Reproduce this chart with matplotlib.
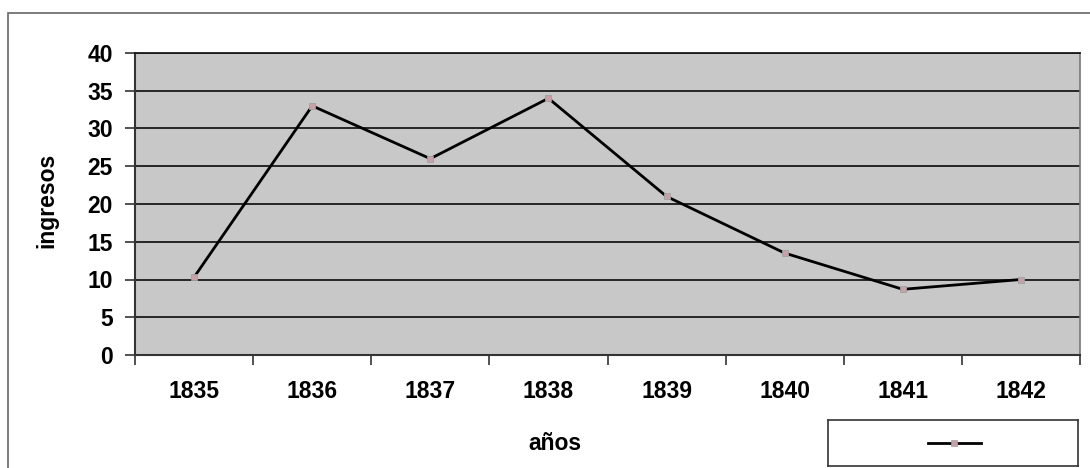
import matplotlib.pyplot as plt
from matplotlib.patches import Rectangle
import numpy as np

# data
years = ['1835', '1836', '1837', '1838', '1839', '1840', '1841', '1842']
ingresos = [10.3, 33.0, 26.0, 34.0, 21.0, 13.5, 8.7, 10.0]
yticks = [0, 5, 10, 15, 20, 25, 30, 35, 40]

plt.rcParams['font.family'] = ['Liberation Sans', 'DejaVu Sans']
plt.rcParams['font.weight'] = 'bold'

fig = plt.figure(figsize=(10.9, 4.68), dpi=100)
fig.patch.set_facecolor('white')

# outer chart frame
fig.patches.append(Rectangle((8/1090, -0.02), 1.05, 1 - 13/468 + 0.02,
                             transform=fig.transFigure, fill=False,
                             edgecolor='#666666', linewidth=1.2))

ax = fig.add_axes([135/1090, 1 - 355/468, 945/1090, 302/468])
ax.set_facecolor('#c8c8c8')

x = np.arange(len(years))
line, = ax.plot(x, ingresos, color='black', linewidth=2,
                marker='s', markersize=5, markerfacecolor='#c8a0a8',
                markeredgecolor='#a0a0a0', markeredgewidth=0.6, zorder=3)

ax.set_xlim(-0.5, len(years) - 0.5)
ax.set_ylim(0, 40)

ax.set_yticks(yticks)
ax.yaxis.grid(True, color='#1a1a1a', linewidth=1.3)
ax.set_axisbelow(True)
ax.tick_params(axis='y', length=7, width=1.2, color='#333333',
               labelsize=16.5, pad=9)

# major ticks at category edges, labels at centers
ax.set_xticks(np.arange(len(years) + 1) - 0.5)
ax.set_xticklabels([])
ax.set_xticks(x, minor=True)
ax.set_xticklabels(years, minor=True)
ax.tick_params(axis='x', which='major', length=7, width=1.2,
               color='#333333', direction='out')
ax.tick_params(axis='x', which='minor', length=0, labelsize=16.5, pad=18)

for s in ['left', 'bottom']:
    ax.spines[s].set_color('#333333')
    ax.spines[s].set_linewidth(1.5)
ax.spines['top'].set_color('#1a1a1a')
ax.spines['top'].set_linewidth(1.3)
ax.spines['right'].set_color('#777777')
ax.spines['right'].set_linewidth(1.2)

fig.text(47/1090, 1 - 200/468, 'ingresos', fontsize=16.5, fontweight='bold',
         rotation=90, ha='center', va='center')
fig.text(555/1090, 1 - 443/468, 'años', fontsize=16.5, fontweight='bold',
         ha='center', va='center')

# legend box with no label text
lax = fig.add_axes([828/1090, 1 - 466/468, 250/1090, 46/468])
lax.set_xlim(0, 1)
lax.set_ylim(0, 1)
lax.set_xticks([])
lax.set_yticks([])
for s in lax.spines.values():
    s.set_color('#333333')
    s.set_linewidth(1.2)
lax.plot([0.40, 0.61], [0.5, 0.5], color='black', linewidth=2)
lax.plot([0.505], [0.5], marker='s', markersize=4, markerfacecolor='#c8a0a8',
         markeredgecolor='#a0a0a0', markeredgewidth=0.5)

fig.savefig('out.png', dpi=100)
